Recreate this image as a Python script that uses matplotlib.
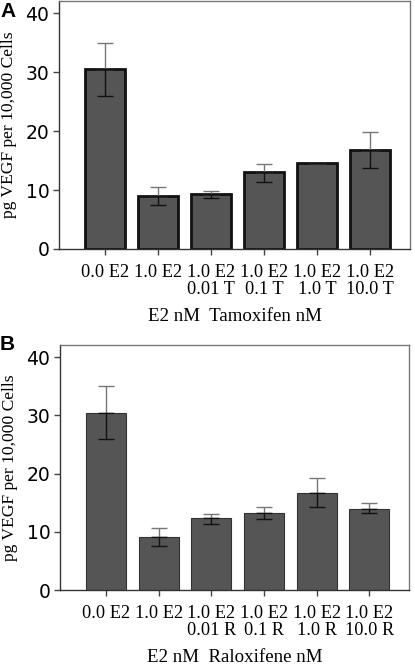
import matplotlib
matplotlib.use("Agg")
import matplotlib.pyplot as plt
import numpy as np

# Panel A (Tamoxifen)
labels_a = ["0.0 E2", "1.0 E2\n", "1.0 E2\n0.01 T", "1.0 E2\n0.1 T", "1.0 E2\n1.0 T", "1.0 E2\n10.0 T"]
vals_a = [30.5, 9.0, 9.3, 13.1, 14.6, 16.8]
err_hi_a = [35.0, 10.6, 9.9, 14.5, 14.6, 19.9]
err_lo_a = [25.9, 7.5, 8.6, 11.4, 14.6, 13.7]

# Panel B (Raloxifene)
labels_b = ["0.0 E2", "1.0 E2\n", "1.0 E2\n0.01 R", "1.0 E2\n0.1 R", "1.0 E2\n1.0 R", "1.0 E2\n10.0 R"]
vals_b = [30.5, 9.1, 12.3, 13.3, 16.7, 14.0]
err_hi_b = [35.1, 10.6, 13.1, 14.3, 19.2, 14.9]
err_lo_b = [26.0, 7.5, 11.4, 12.2, 14.2, 13.2]

yticks = [0, 10, 20, 30, 40]

fig = plt.figure(figsize=(4.15, 6.66), dpi=100)

serif = "Liberation Serif"
sans = "DejaVu Sans"

def panel(rect, labels, vals, hi, lo, xlabel, letter, letter_y, thick):
    ax = fig.add_axes(rect)
    x = np.arange(len(vals))
    ax.bar(x, vals, width=0.76, color="#555555",
           edgecolor="#111111" if thick else "#333333",
           linewidth=2.0 if thick else 0.8, zorder=2)
    v = np.array(vals); h = np.array(hi); l = np.array(lo)
    ax.errorbar(x, v, yerr=[np.zeros_like(v), h - v], fmt="none",
                ecolor="#777777", elinewidth=1.0, capsize=6, capthick=1.0, zorder=3)
    ax.errorbar(x, v, yerr=[v - l, np.zeros_like(v)], fmt="none",
                ecolor="#111111", elinewidth=1.0, capsize=6, capthick=1.0, zorder=3)
    ax.set_xlim(-0.87, 5.75)
    ax.set_ylim(0, 42.1)
    ax.set_yticks(yticks)
    ax.set_yticklabels([str(t) for t in yticks], fontfamily=sans, fontsize=13.5)
    ax.set_xticks(x)
    ax.set_xticklabels(labels, fontfamily=serif, fontsize=13.2, linespacing=1.0)
    ax.tick_params(axis="both", direction="out", length=4, width=1, color="#444444", pad=3)
    ax.tick_params(axis="x", pad=7)
    for s in ["top", "right"]:
        ax.spines[s].set_color("#777777")
        ax.spines[s].set_linewidth(1.0)
    for s in ["left", "bottom"]:
        ax.spines[s].set_color("#333333")
        ax.spines[s].set_linewidth(1.0)
    ax.set_ylabel("pg VEGF per 10,000 Cells", fontfamily=serif, fontsize=12.6, labelpad=6)
    ax.set_xlabel(xlabel, fontfamily=serif, fontsize=13.6, labelpad=7)
    fig.text(0.0, 1 - letter_y / 666, letter, fontfamily="Liberation Sans",
             fontweight="bold", fontsize=15, ha="left", va="top")
    return ax

panel([59/415, 1 - 249/666, (410 - 59)/415, (249 - 1)/666],
      labels_a, vals_a, err_hi_a, err_lo_a, "E2 nM  Tamoxifen nM", "A", 2, True)
panel([60/415, 1 - 590/666, (409 - 60)/415, (590 - 345)/666],
      labels_b, vals_b, err_hi_b, err_lo_b, "E2 nM  Raloxifene nM", "B", 335, False)

fig.savefig("out.png", dpi=100)
